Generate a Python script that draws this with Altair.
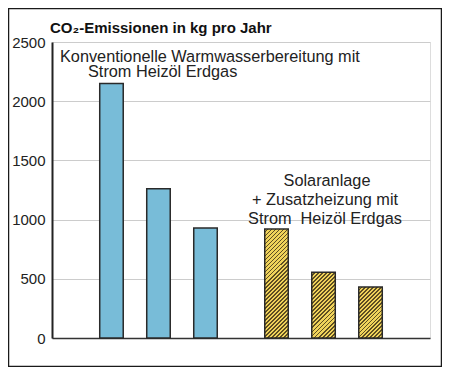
import altair as alt
import pandas as pd

# ---- data ----
groups = ["Konventionell", "Solar"]
carriers = ["Strom", "Heizöl", "Erdgas"]
conventional = [2150, 1260, 930]
solar = [920, 555, 430]
y_ticks = [0, 500, 1000, 1500, 2000, 2500]

title_text = "CO₂-Emissionen in kg pro Jahr"
ann_texts = ["Konventionelle Warmwasserbereitung mit", "Strom Heizöl Erdgas",
             "Solaranlage", "+ Zusatzheizung mit", "Strom\u00a0\u00a0Heizöl Erdgas"]
ann_values = [2331, 2204, 1284, 1123, 963]

rows = []
for g, vals in zip(groups, [conventional, solar]):
    for c, v in zip(carriers, vals):
        rows.append({"group": g, "carrier": c, "value": v})
df = pd.DataFrame(rows)

# ---- style ----
FONT = "Liberation Sans"
W, H = 378, 296
YMAX = 2500
BAR_W = 23.5
BLUE = "#78bcd8"
YELLOW = "#f0d35a"
HATCH = "#5e4e22"
EDGE = "#2a2a2a"


def hatch_gradient(value):
    h = value * H / YMAX
    w = BAR_W
    a = (1 + h / w) / (1 + (h / w) ** 2)
    period = 4.0
    n = max(1, int(round((w + h) / period)))
    frac = 0.55
    stops = []
    for i in range(n):
        o0 = i / n
        o1 = (i + frac) / n
        o2 = (i + 1) / n
        stops += [alt.GradientStop(offset=o0, color=YELLOW),
                  alt.GradientStop(offset=o1, color=YELLOW),
                  alt.GradientStop(offset=o1, color=HATCH),
                  alt.GradientStop(offset=o2, color=HATCH)]
    return alt.LinearGradient(gradient="linear", stops=stops,
                              x1=0, y1=0, x2=a, y2=a * h / w)


x_enc = alt.X("group:N", scale=alt.Scale(domain=groups, paddingInner=0.1455, paddingOuter=0.218),
              axis=alt.Axis(labels=False, ticks=False, title=None, domain=True,
                            domainColor="#333", domainWidth=1.5, grid=False))
xo_enc = alt.XOffset("carrier:N", scale=alt.Scale(domain=carriers, paddingInner=0.5, paddingOuter=0.25))
y_enc = alt.Y("value:Q", scale=alt.Scale(domain=[0, YMAX], nice=False),
              axis=alt.Axis(values=y_ticks, format="d", title=None, ticks=False, labelPadding=7,
                            labelFont=FONT, labelFontSize=15, labelColor="#222",
                            domainColor="#222", domainWidth=2,
                            grid=True, gridColor="#cccccc", gridWidth=1))

base = alt.Chart(df).encode(x=x_enc, xOffset=xo_enc, y=y_enc)

layers = []
layers.append(base.transform_filter(alt.datum.group == groups[0])
              .mark_bar(fill=BLUE, stroke=EDGE, strokeWidth=1.5))
for c, v in zip(carriers, solar):
    layers.append(base.transform_filter((alt.datum.group == groups[1]) & (alt.datum.carrier == c))
                  .mark_bar(fill=hatch_gradient(v), stroke=EDGE, strokeWidth=1.5))

one = pd.DataFrame({"k": [0]})
ann_x = [8, 36, 275, 273, 273]
ann_align = ["left", "left", "center", "center", "center"]
for t, v, xp, al in zip(ann_texts, ann_values, ann_x, ann_align):
    layers.append(alt.Chart(one).mark_text(text=t, align=al, baseline="alphabetic",
                                           font=FONT, fontSize=16.3, color="#222")
                  .encode(x=alt.value(xp), y=alt.datum(v)))

# chart title drawn as text above the plot area
layers.append(alt.Chart(one).mark_text(text=title_text, align="left", baseline="alphabetic",
                                       font=FONT, fontSize=15, fontWeight="bold", color="#111")
              .encode(x=alt.value(-2), y=alt.value(-9)))

frame = alt.Chart(one).mark_rect(fill="transparent", stroke="#1a1a1a", strokeWidth=1.5).encode(
    x=alt.value(-43.5), x2=alt.value(389.5), y=alt.value(-33.5), y2=alt.value(324.5))
layers.append(frame)

chart = alt.layer(*layers).properties(
    width=W, height=H,
    padding={"left": 44, "top": 34, "right": 12, "bottom": 29},
    autosize="none",
).configure_view(stroke="#999999", strokeWidth=1).configure(background="white")

chart.save("out.html", embed_options={"renderer": "svg", "actions": False})
